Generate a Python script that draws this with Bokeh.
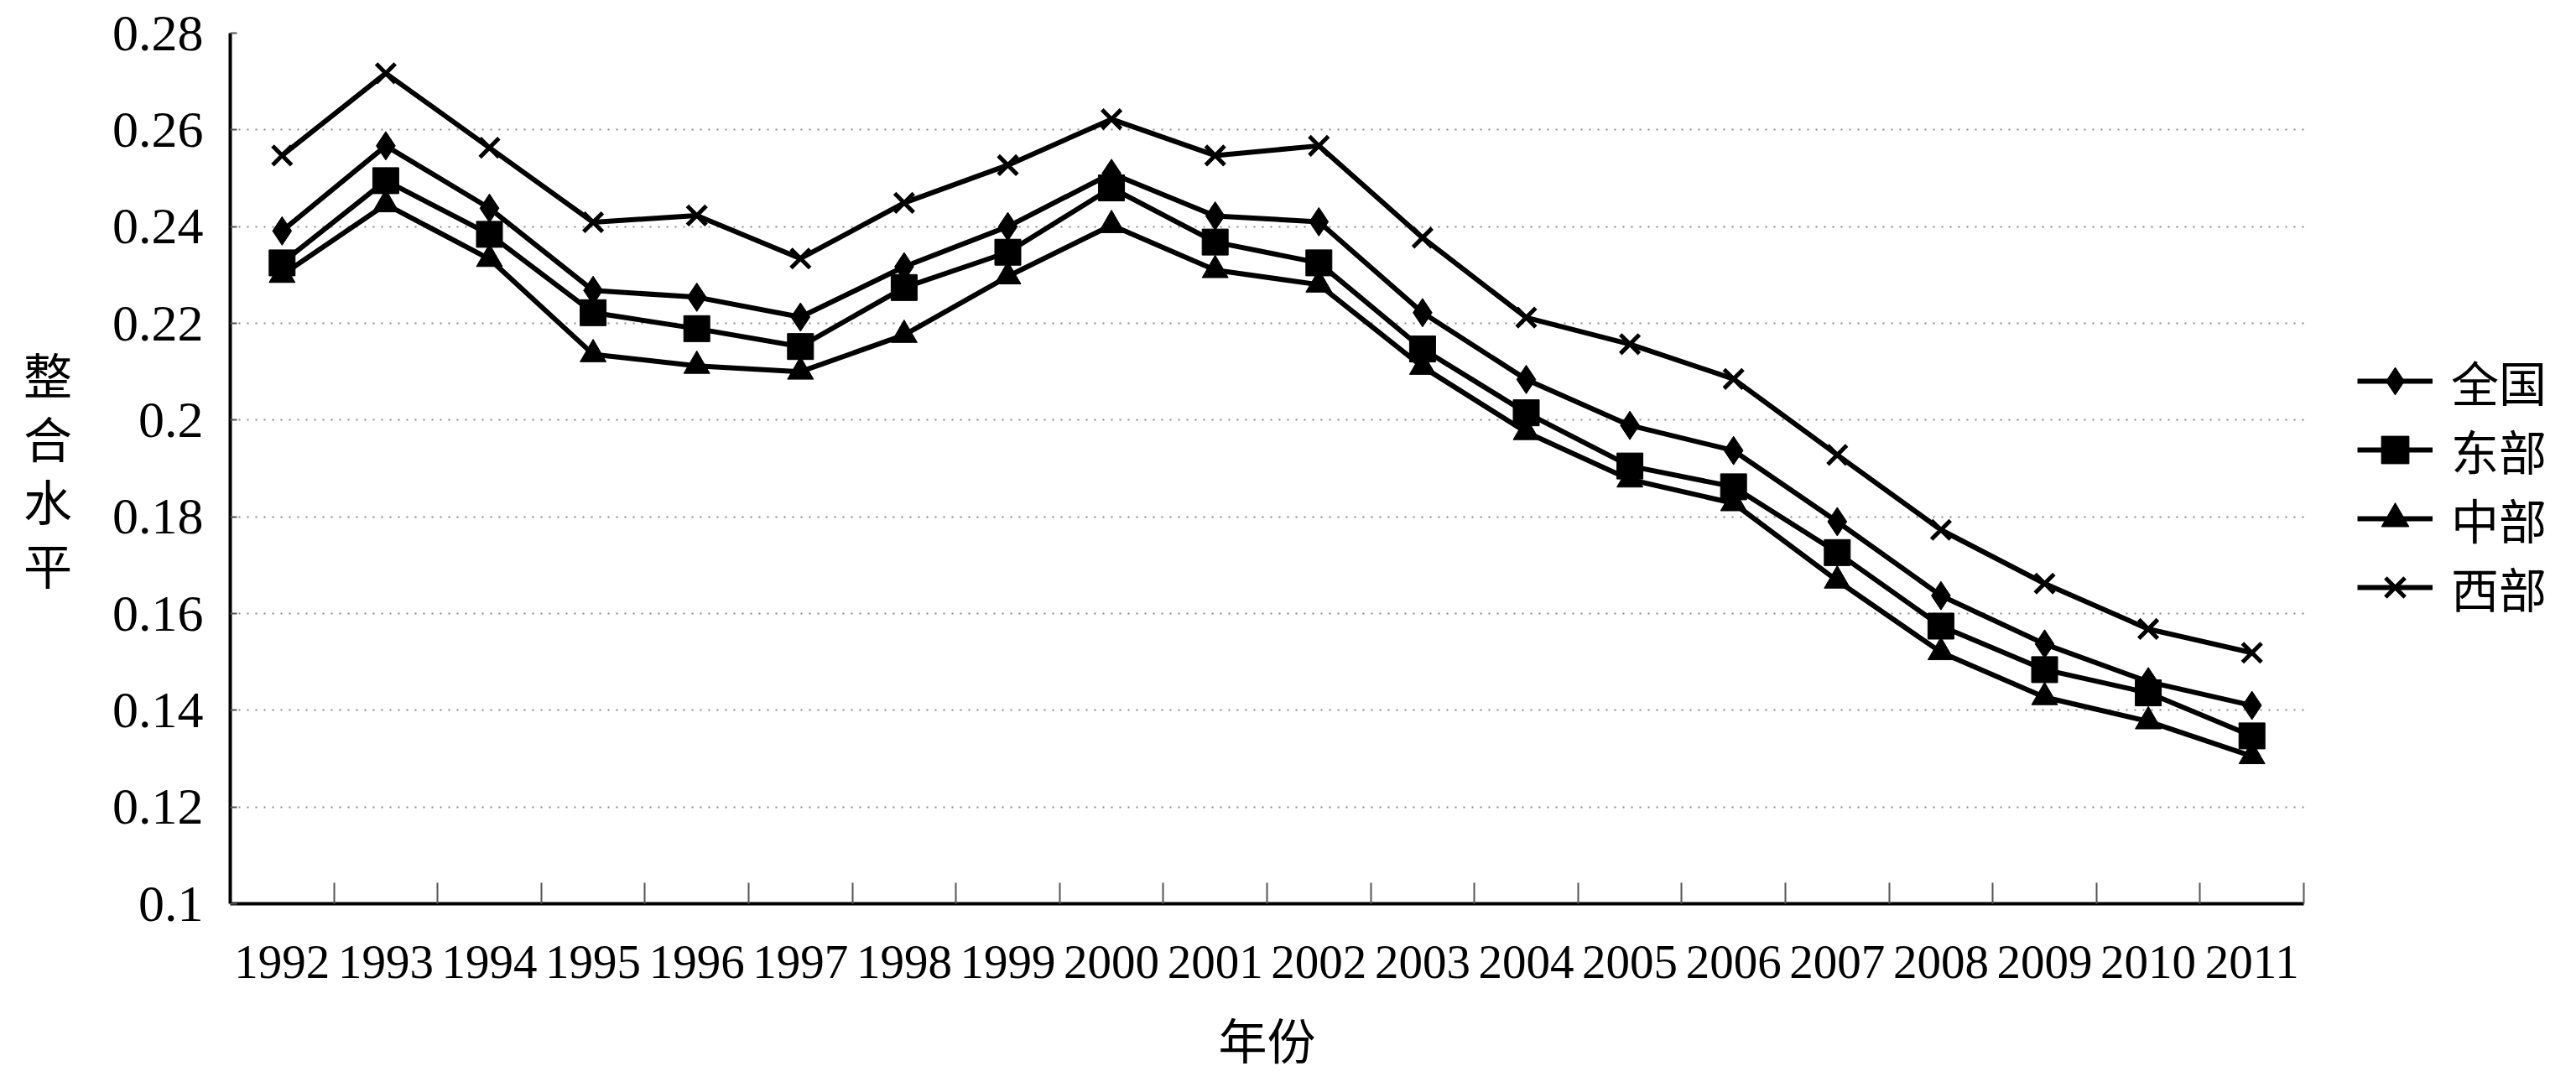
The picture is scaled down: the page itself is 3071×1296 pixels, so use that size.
from bokeh.plotting import figure
from bokeh.models import Range1d, FixedTicker, Legend, LegendItem, NumeralTickFormatter
from bokeh.embed import file_html
from bokeh.resources import INLINE

# ---- data ----
years = [1992, 1993, 1994, 1995, 1996, 1997, 1998, 1999, 2000, 2001,
         2002, 2003, 2004, 2005, 2006, 2007, 2008, 2009, 2010, 2011]
year_labels = ["1992", "1993", "1994", "1995", "1996", "1997", "1998", "1999", "2000", "2001",
               "2002", "2003", "2004", "2005", "2006", "2007", "2008", "2009", "2010", "2011"]
quanguo = [0.2391, 0.2567, 0.2438, 0.2268, 0.2254, 0.2213, 0.2317, 0.2400, 0.2510, 0.2422,
           0.2410, 0.2222, 0.2084, 0.1989, 0.1937, 0.1790, 0.1637, 0.1537, 0.1459, 0.1410]
dongbu = [0.2325, 0.2495, 0.2384, 0.2222, 0.2189, 0.2152, 0.2274, 0.2347, 0.2480, 0.2368,
          0.2325, 0.2147, 0.2015, 0.1905, 0.1862, 0.1726, 0.1574, 0.1484, 0.1436, 0.1347]
zhongbu = [0.2300, 0.2446, 0.2333, 0.2136, 0.2112, 0.2100, 0.2176, 0.2297, 0.2403, 0.2310,
           0.2280, 0.2110, 0.1975, 0.1877, 0.1828, 0.1668, 0.1520, 0.1427, 0.1377, 0.1305]
xibu = [0.2547, 0.2717, 0.2563, 0.2409, 0.2423, 0.2334, 0.2449, 0.2527, 0.2622, 0.2547,
        0.2567, 0.2377, 0.2212, 0.2157, 0.2085, 0.1928, 0.1773, 0.1662, 0.1568, 0.1519]
series_names = ["全国", "东部", "中部", "西部"]
y_ticks = [0.10, 0.12, 0.14, 0.16, 0.18, 0.20, 0.22, 0.24, 0.26, 0.28]
x_title = "年份"
y_title = "整合水平"

CJK = "Noto Sans CJK SC"
SERIF = "Liberation Serif"

# layout (pixels)
W, H = 3055, 1280
LEFT, TOP, BOTTOM = 274, 39, 199
PLOT_W = 2472            # width of the category area
LEGEND_W = W - LEFT - PLOT_W
X_TITLE_SIZE = 58

x_start = years[0] - 0.5
x_end = years[-1] + 0.5
px_per_year = PLOT_W / (x_end - x_start)
x_view_end = x_end + LEGEND_W / px_per_year   # room on the right for the legend

p = figure(width=W, height=H, output_backend="svg", toolbar_location=None,
           x_range=Range1d(x_start, x_view_end),
           y_range=Range1d(y_ticks[0], y_ticks[-1]),
           title=x_title, title_location="below",
           min_border_left=LEFT, min_border_right=0, min_border_top=TOP, min_border_bottom=BOTTOM)
p.outline_line_color = None
p.background_fill_color = "white"
p.border_fill_color = "white"

# x-axis title, centred under the category area (not under the legend room)
p.title.align = "left"
p.title.offset = PLOT_W / 2 - X_TITLE_SIZE
p.title.standoff = 0
p.title.vertical_align = "middle"
p.title.text_font = CJK
p.title.text_font_size = f"{X_TITLE_SIZE}px"
p.title.text_font_style = "normal"
p.title.text_color = "black"

# x axis
p.xaxis.bounds = (x_start, x_end)
p.xaxis.ticker = FixedTicker(ticks=years, minor_ticks=[y + 0.5 for y in years])
p.xaxis.major_label_overrides = {y: l for y, l in zip(years, year_labels)}
p.xaxis.major_tick_in = 0
p.xaxis.major_tick_out = 0
p.xaxis.minor_tick_in = 25
p.xaxis.minor_tick_out = 0
p.xaxis.minor_tick_line_color = "#555555"
p.xaxis.minor_tick_line_width = 2
p.xaxis.axis_line_width = 4
p.xaxis.axis_line_color = "black"
p.xaxis.major_label_text_font = SERIF
p.xaxis.major_label_text_font_size = "57px"
p.xaxis.major_label_text_color = "black"
p.xaxis.major_label_standoff = 50
# blank spacer label: pushes the title (年份) a little further down
p.xaxis.axis_label = " "
p.xaxis.axis_label_standoff = 22
p.xaxis.axis_label_text_font_size = "1px"

# y axis
p.yaxis.ticker = FixedTicker(ticks=y_ticks)
p.yaxis.formatter = NumeralTickFormatter(format="0.0[0]")
p.yaxis.major_tick_in = 8
p.yaxis.major_tick_out = 0
p.yaxis.major_tick_line_color = "#555555"
p.yaxis.major_tick_line_width = 2
p.yaxis.minor_tick_in = 0
p.yaxis.minor_tick_out = 0
p.yaxis.axis_line_width = 4
p.yaxis.axis_line_color = "black"
p.yaxis.major_label_text_font = SERIF
p.yaxis.major_label_text_font_size = "62px"
p.yaxis.major_label_text_color = "black"
p.yaxis.major_label_standoff = 32
p.yaxis.axis_label = "\n".join(list(y_title))
p.yaxis.axis_label_orientation = "horizontal"
p.yaxis.axis_label_text_font = CJK
p.yaxis.axis_label_text_font_size = "58px"
p.yaxis.axis_label_text_font_style = "normal"
p.yaxis.axis_label_text_color = "black"
p.yaxis.axis_label_text_line_height = 0.9
p.yaxis.axis_label_standoff = 45

p.xgrid.grid_line_color = None
grid = p.ygrid[0]
if "cross_bounds" in grid.properties():
    grid.cross_bounds = (x_start, x_end)
    grid.grid_line_color = "#888888"
    grid.grid_line_dash = "2 8"
    grid.grid_line_width = 2
else:
    grid.grid_line_color = None
    gy = y_ticks[1:]
    p.segment(x0=[x_start] * len(gy), y0=gy, x1=[x_end] * len(gy), y1=gy,
              line_color="#888888", line_dash="2 8", line_width=2, level="underlay")

data = [quanguo, dongbu, zhongbu, xibu]
markers = ["diamond", "square", "triangle", "x"]
sizes = [34, 31, 31, 32]

line_rs = []
for vals in data:
    line_rs.append(p.line(years, vals, line_color="black", line_width=6))
mark_rs = []
for vals, m, s in zip(data, markers, sizes):
    if m == "x":
        r = p.scatter(years, vals, marker=m, size=s, line_color="black", line_width=5)
    else:
        r = p.scatter(years, vals, marker=m, size=s, fill_color="black", line_color="black", line_width=1)
    mark_rs.append(r)

items = [LegendItem(label=n, renderers=[lr, mr]) for n, lr, mr in zip(series_names, line_rs, mark_rs)]
legend = Legend(items=items, location=(PLOT_W + 64, 336))
legend.border_line_color = None
legend.background_fill_alpha = 0
legend.glyph_width = 90
legend.glyph_height = 82
legend.spacing = 0
legend.padding = 40
legend.margin = 0
legend.label_standoff = 22
legend.label_text_font = CJK
legend.label_text_font_size = "57px"
legend.label_text_color = "black"
p.add_layout(legend)

open("out.html", "w").write(file_html(p, INLINE))
